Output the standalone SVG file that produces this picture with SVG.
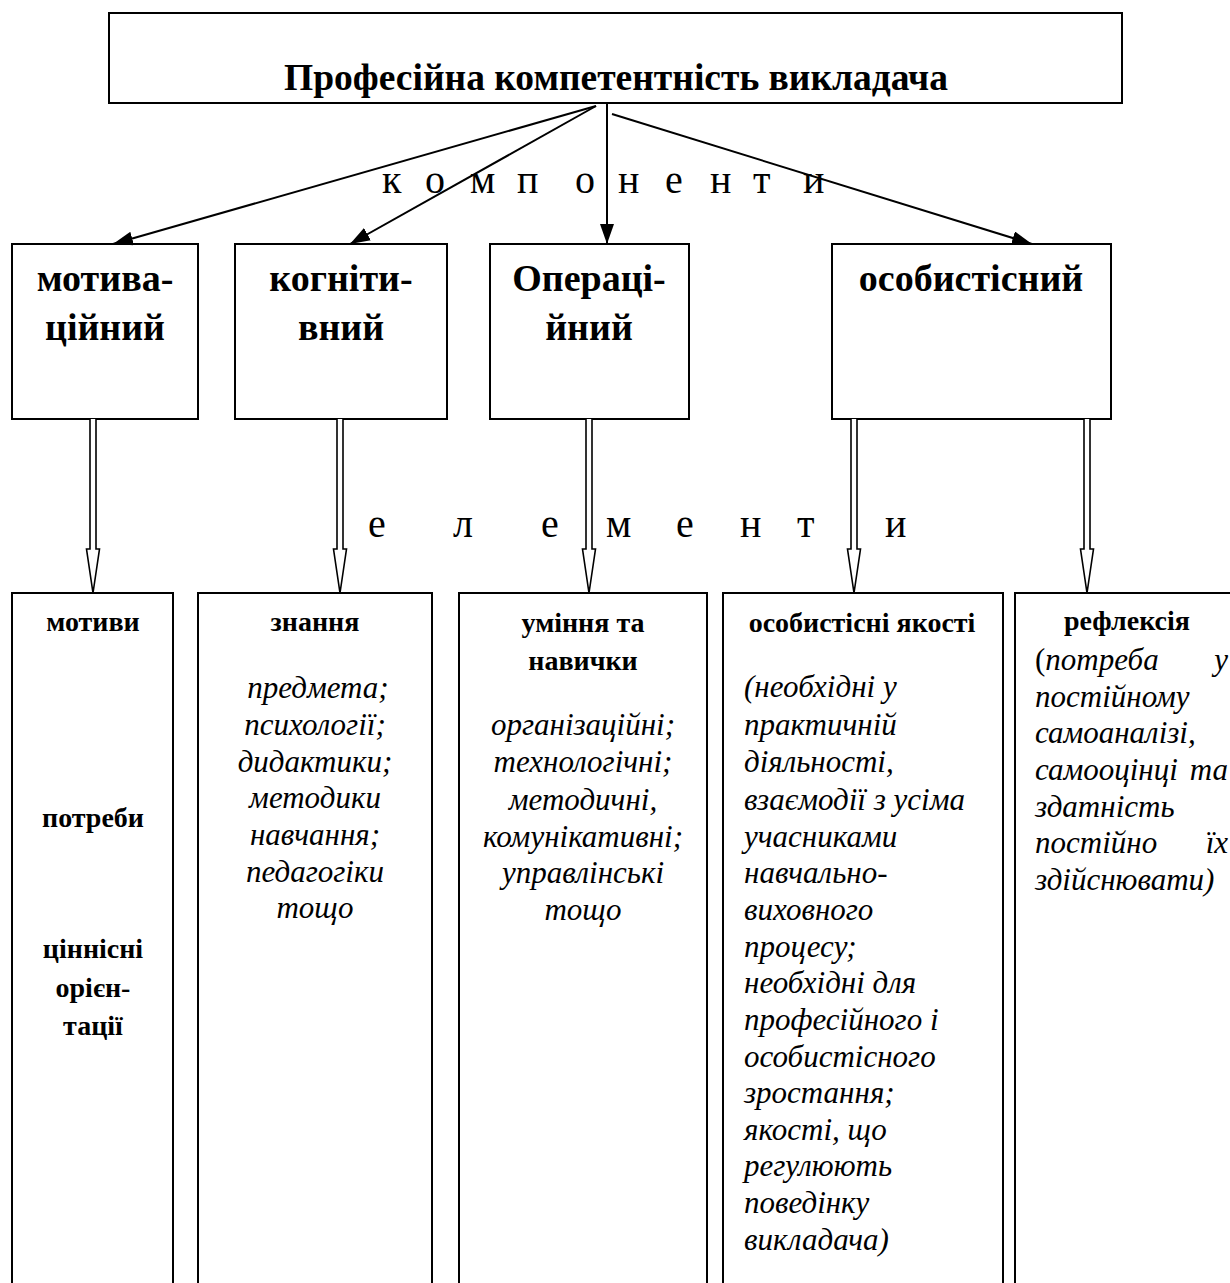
<svg xmlns="http://www.w3.org/2000/svg" width="1230" height="1283" viewBox="0 0 1230 1283">
  <defs>
    <marker id="head" viewBox="0 0 20 14" refX="20" refY="7" markerWidth="20" markerHeight="14" markerUnits="userSpaceOnUse" orient="auto">
      <path d="M0,0 L20,7 L0,14 Z" fill="#000"/>
    </marker>
  </defs>
  <style>
    .box { fill: #fff; stroke: #000; stroke-width: 2; }
    .line { stroke: #000; stroke-width: 2; fill: none; }
    .block { fill: #fff; stroke: #000; stroke-width: 1.6; stroke-linejoin: miter; }
    text { font-family: "Liberation Serif", "Times New Roman", serif; fill: #000; }
    .title { font-size: 37.5px; font-weight: bold; text-anchor: middle; }
    .comp { font-size: 38px; font-weight: bold; text-anchor: middle; }
    .spaced { font-size: 40px; }
    .head { font-size: 28px; font-weight: bold; text-anchor: middle; }
    .it { font-size: 31px; font-style: italic; }
    .itc { font-size: 31px; font-style: italic; text-anchor: middle; }
    .up { font-style: normal; }
  </style>
  <rect width="1230" height="1283" fill="#fff"/>

  <!-- top node -->
  <g id="node-root">
    <rect class="box" x="109" y="13" width="1013" height="90"/>
    <text class="title" x="616" y="90">Професійна компетентність викладача</text>
  </g>

  <!-- component nodes -->
  <g id="node-motiv">
    <rect class="box" x="12" y="244" width="186" height="175"/>
    <text class="comp" x="105" y="291">мотива-</text>
    <text class="comp" x="105" y="340">ційний</text>
  </g>
  <g id="node-cogn">
    <rect class="box" x="235" y="244" width="212" height="175"/>
    <text class="comp" x="341" y="291">когніти-</text>
    <text class="comp" x="341" y="340">вний</text>
  </g>
  <g id="node-oper">
    <rect class="box" x="490" y="244" width="199" height="175"/>
    <text class="comp" x="589" y="291">Операці-</text>
    <text class="comp" x="589" y="340">йний</text>
  </g>
  <g id="node-pers">
    <rect class="box" x="832" y="244" width="279" height="175"/>
    <text class="comp" x="971" y="291">особистісний</text>
  </g>

  <!-- element nodes -->
  <g id="node-motives">
    <rect class="box" x="12" y="593" width="161" height="720"/>
    <text class="head" x="93" y="631">мотиви</text>
    <text class="head" x="93" y="827">потреби</text>
    <text class="head" x="93" y="958">ціннісні</text>
    <text class="head" x="93" y="997">орієн-</text>
    <text class="head" x="93" y="1035">тації</text>
  </g>
  <g id="node-knowledge">
    <rect class="box" x="198" y="593" width="234" height="720"/>
    <text class="head" x="315" y="631">знання</text>
    <text class="itc" x="318" y="698">предмета;</text>
    <text class="itc" x="315" y="735">психології;</text>
    <text class="itc" x="315" y="772">дидактики;</text>
    <text class="itc" x="315" y="808">методики</text>
    <text class="itc" x="315" y="845">навчання;</text>
    <text class="itc" x="315" y="882">педагогіки</text>
    <text class="itc" x="315" y="918">тощо</text>
  </g>
  <g id="node-skills">
    <rect class="box" x="459" y="593" width="248" height="720"/>
    <text class="head" x="583" y="632">уміння та</text>
    <text class="head" x="583" y="670">навички</text>
    <text class="itc" x="583" y="735">організаційні;</text>
    <text class="itc" x="583" y="772">технологічні;</text>
    <text class="itc" x="583" y="810">методичні,</text>
    <text class="itc" x="583" y="847">комунікативні;</text>
    <text class="itc" x="583" y="883">управлінські</text>
    <text class="itc" x="583" y="920">тощо</text>
  </g>
  <g id="node-qualities">
    <rect class="box" x="723" y="593" width="280" height="720"/>
    <text class="head" x="862" y="632">особистісні якості</text>
    <text class="it" x="744" y="697">(необхідні у</text>
    <text class="it" x="744" y="735">практичній</text>
    <text class="it" x="744" y="772">діяльності,</text>
    <text class="it" x="744" y="810">взаємодії з усіма</text>
    <text class="it" x="744" y="847">учасниками</text>
    <text class="it" x="744" y="883">навчально-</text>
    <text class="it" x="744" y="920">виховного</text>
    <text class="it" x="744" y="957">процесу;</text>
    <text class="it" x="744" y="993">необхідні для</text>
    <text class="it" x="744" y="1030">професійного і</text>
    <text class="it" x="744" y="1067">особистісного</text>
    <text class="it" x="744" y="1103">зростання;</text>
    <text class="it" x="744" y="1140">якості, що</text>
    <text class="it" x="744" y="1176">регулюють</text>
    <text class="it" x="744" y="1213">поведінку</text>
    <text class="it" x="744" y="1250">викладача)</text>
  </g>
  <g id="node-reflection">
    <rect class="box" x="1015" y="593" width="240" height="720"/>
    <text class="head" x="1127" y="630">рефлексія</text>
    <text class="it" x="1035" y="670"><tspan class="up">(</tspan>потреба<tspan x="1228" text-anchor="end">у</tspan></text>
    <text class="it" x="1035" y="707">постійному</text>
    <text class="it" x="1035" y="743">самоаналізі,</text>
    <text class="it" x="1035" y="780">самооцінці<tspan x="1228" text-anchor="end">та</tspan></text>
    <text class="it" x="1035" y="817">здатність</text>
    <text class="it" x="1035" y="853">постійно<tspan x="1228" text-anchor="end">їх</tspan></text>
    <text class="it" x="1035" y="890">здійснювати)</text>
  </g>

  <!-- connectors -->
  <g id="connectors">
    <line class="line" x1="596" y1="106" x2="113" y2="244" marker-end="url(#head)"/>
    <line class="line" x1="596" y1="106" x2="350" y2="244" marker-end="url(#head)"/>
    <line class="line" x1="607" y1="103" x2="607" y2="244" marker-end="url(#head)"/>
    <line class="line" x1="612" y1="114" x2="1032" y2="244" marker-end="url(#head)"/>

    <path class="block" d="M90,419 V549 H86.5 L93,593 L99.5,549 H96 V419"/>
    <path class="block" d="M337,419 V549 H333.5 L340,593 L346.5,549 H343 V419"/>
    <path class="block" d="M586,419 V549 H582.5 L589,593 L595.5,549 H592 V419"/>
    <path class="block" d="M851,419 V549 H847.5 L854,593 L860.5,549 H857 V419"/>
    <path class="block" d="M1084,419 V549 H1080.5 L1087,593 L1093.5,549 H1090 V419"/>
  </g>

  <!-- labels on the connectors -->
  <text class="spaced" x="382 402 425 447 470 495 517 540 575 597 618 643 665 688 710 733 753 780 803" y="193">к о м п о н е н т и</text>
  <text class="spaced" x="368 410 453 497 541 572 606 641 676 708 740 769 797 841 885" y="537">е л е м е н т и</text>
</svg>
